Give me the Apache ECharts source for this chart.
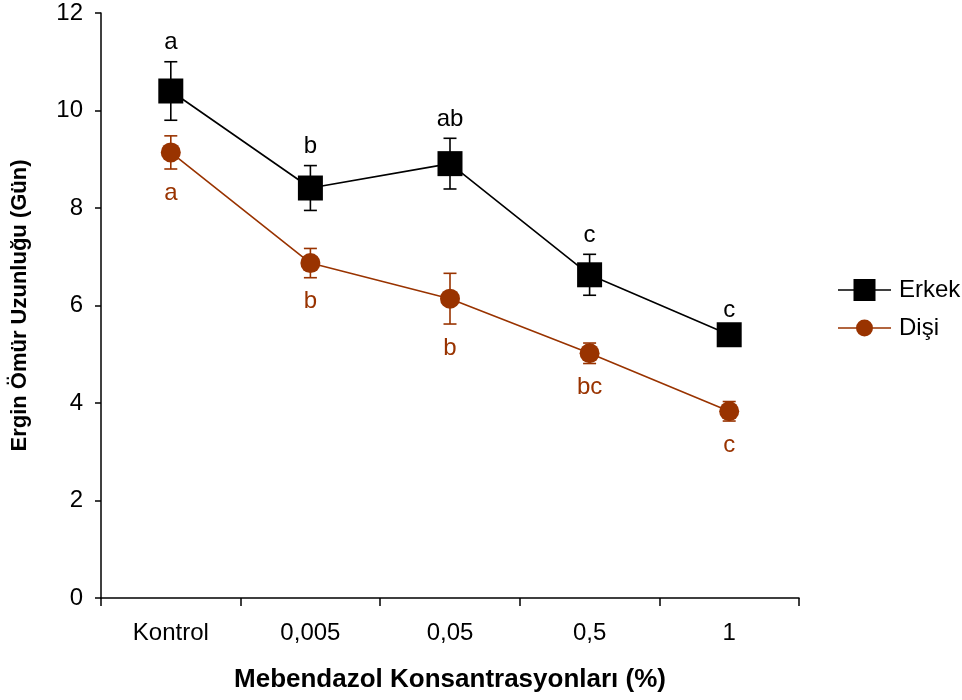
<!DOCTYPE html>
<html>
<head>
<meta charset="utf-8">
<script src="https://cdn.jsdelivr.net/npm/echarts@6/dist/echarts.min.js"></script>
<style>
  html, body { margin: 0; padding: 0; background: #ffffff; }
  #grafik { width: 962px; height: 700px; }
</style>
</head>
<body>
<div id="grafik"></div>
<script>
// Mebendazol konsantrasyonlarına göre ergin ömür uzunluğu (ortalama ± hata)
const kategoriler = ['Kontrol', '0,005', '0,05', '0,5', '1'];

const erkekOrt  = [10.40, 8.41, 8.91, 6.63, 5.40];
const erkekHata = [0.60, 0.46, 0.52, 0.42, 0.12];
const erkekHarf = ['a', 'b', 'ab', 'c', 'c'];

const disiOrt  = [9.14, 6.87, 6.14, 5.02, 3.83];
const disiHata = [0.34, 0.30, 0.52, 0.21, 0.20];
const disiHarf = ['a', 'b', 'b', 'bc', 'c'];

const yMin = 0, yMax = 12, yAdim = 2;

const SIYAH = '#000000';
const KAHVE = '#993300';
const YAZI = '"Liberation Sans", Arial, sans-serif';

// Lejant simgeleri: çizgi + kare, çizgi + daire
const erkekSimge = 'path://M0,10.2H53V11.8H0Z M15.5,0H37.5V22H15.5Z';
const disiSimge = 'path://M0,7.7H53V9.3H0Z M18,8.5A8.5,8.5,0,1,1,35,8.5A8.5,8.5,0,1,1,18,8.5Z';

// Hata çubukları ve harf gösterimleri (üstte ya da altta)
function hataCubugu(renk, harfler, yukari) {
  return function (params, api) {
    const i = api.value(0);
    const ort = api.value(1);
    const h = api.value(2);
    const ust = api.coord([i, ort + h]);
    const alt = api.coord([i, ort - h]);
    const kapak = 6.5;
    const stil = { stroke: renk, lineWidth: 1.6 };
    const parcalar = [
      { type: 'line', shape: { x1: ust[0], y1: ust[1], x2: alt[0], y2: alt[1] }, style: stil },
      { type: 'line', shape: { x1: ust[0] - kapak, y1: ust[1], x2: ust[0] + kapak, y2: ust[1] }, style: stil },
      { type: 'line', shape: { x1: alt[0] - kapak, y1: alt[1], x2: alt[0] + kapak, y2: alt[1] }, style: stil },
      {
        type: 'text',
        style: {
          text: harfler[params.dataIndex],
          x: ust[0],
          y: yukari ? ust[1] - 19 : alt[1] + 24,
          align: 'center',
          verticalAlign: 'middle',
          fill: renk,
          font: '24px ' + YAZI
        }
      }
    ];
    return { type: 'group', children: parcalar };
  };
}

const grafik = echarts.init(document.getElementById('grafik'), null, { renderer: 'canvas' });

grafik.setOption({
  animation: false,
  backgroundColor: '#ffffff',
  textStyle: { fontFamily: YAZI },
  grid: { left: 101, right: 163, top: 13, bottom: 102, containLabel: false },
  legend: {
    orient: 'vertical',
    left: 833,
    top: 273,
    itemWidth: 53,
    itemHeight: 22,
    itemGap: 14,
    textStyle: { fontSize: 24, color: SIYAH, fontFamily: YAZI, padding: [0, 0, 0, 3] },
    data: [
      { name: 'Erkek', icon: erkekSimge },
      { name: 'Dişi', icon: disiSimge }
    ]
  },
  xAxis: {
    type: 'category',
    data: kategoriler,
    boundaryGap: true,
    name: 'Mebendazol Konsantrasyonları (%)',
    nameLocation: 'middle',
    nameGap: 69,
    nameTextStyle: { fontSize: 26, fontWeight: 'bold', color: SIYAH, fontFamily: YAZI },
    axisLine: { lineStyle: { color: SIYAH, width: 1.5 } },
    axisTick: { show: true, length: 8, lineStyle: { color: SIYAH, width: 1.5 } },
    axisLabel: { fontSize: 24, color: SIYAH, margin: 23, fontFamily: YAZI },
    splitLine: { show: false }
  },
  yAxis: {
    type: 'value',
    min: yMin,
    max: yMax,
    interval: yAdim,
    name: 'Ergin Ömür Uzunluğu (Gün)',
    nameLocation: 'middle',
    nameGap: 70,
    nameTextStyle: { fontSize: 22, fontWeight: 'bold', color: SIYAH, fontFamily: YAZI },
    axisLine: { show: true, lineStyle: { color: SIYAH, width: 1.5 } },
    axisTick: { show: true, length: 6, lineStyle: { color: SIYAH, width: 1.5 } },
    axisLabel: { fontSize: 24, color: SIYAH, margin: 18, fontFamily: YAZI },
    splitLine: { show: false }
  },
  series: [
    {
      type: 'custom',
      name: 'Erkek hata',
      renderItem: hataCubugu(SIYAH, erkekHarf, true),
      data: erkekOrt.map((v, i) => [i, v, erkekHata[i]]),
      z: 1,
      silent: true
    },
    {
      type: 'custom',
      name: 'Dişi hata',
      renderItem: hataCubugu(KAHVE, disiHarf, false),
      data: disiOrt.map((v, i) => [i, v, disiHata[i]]),
      z: 1,
      silent: true
    },
    {
      type: 'line',
      name: 'Erkek',
      data: erkekOrt,
      symbol: 'rect',
      symbolSize: 25,
      color: SIYAH,
      itemStyle: { color: SIYAH },
      lineStyle: { color: SIYAH, width: 1.6 },
      z: 3
    },
    {
      type: 'line',
      name: 'Dişi',
      data: disiOrt,
      symbol: 'circle',
      symbolSize: 20,
      color: KAHVE,
      itemStyle: { color: KAHVE },
      lineStyle: { color: KAHVE, width: 1.6 },
      z: 3
    }
  ]
});
</script>
</body>
</html>
